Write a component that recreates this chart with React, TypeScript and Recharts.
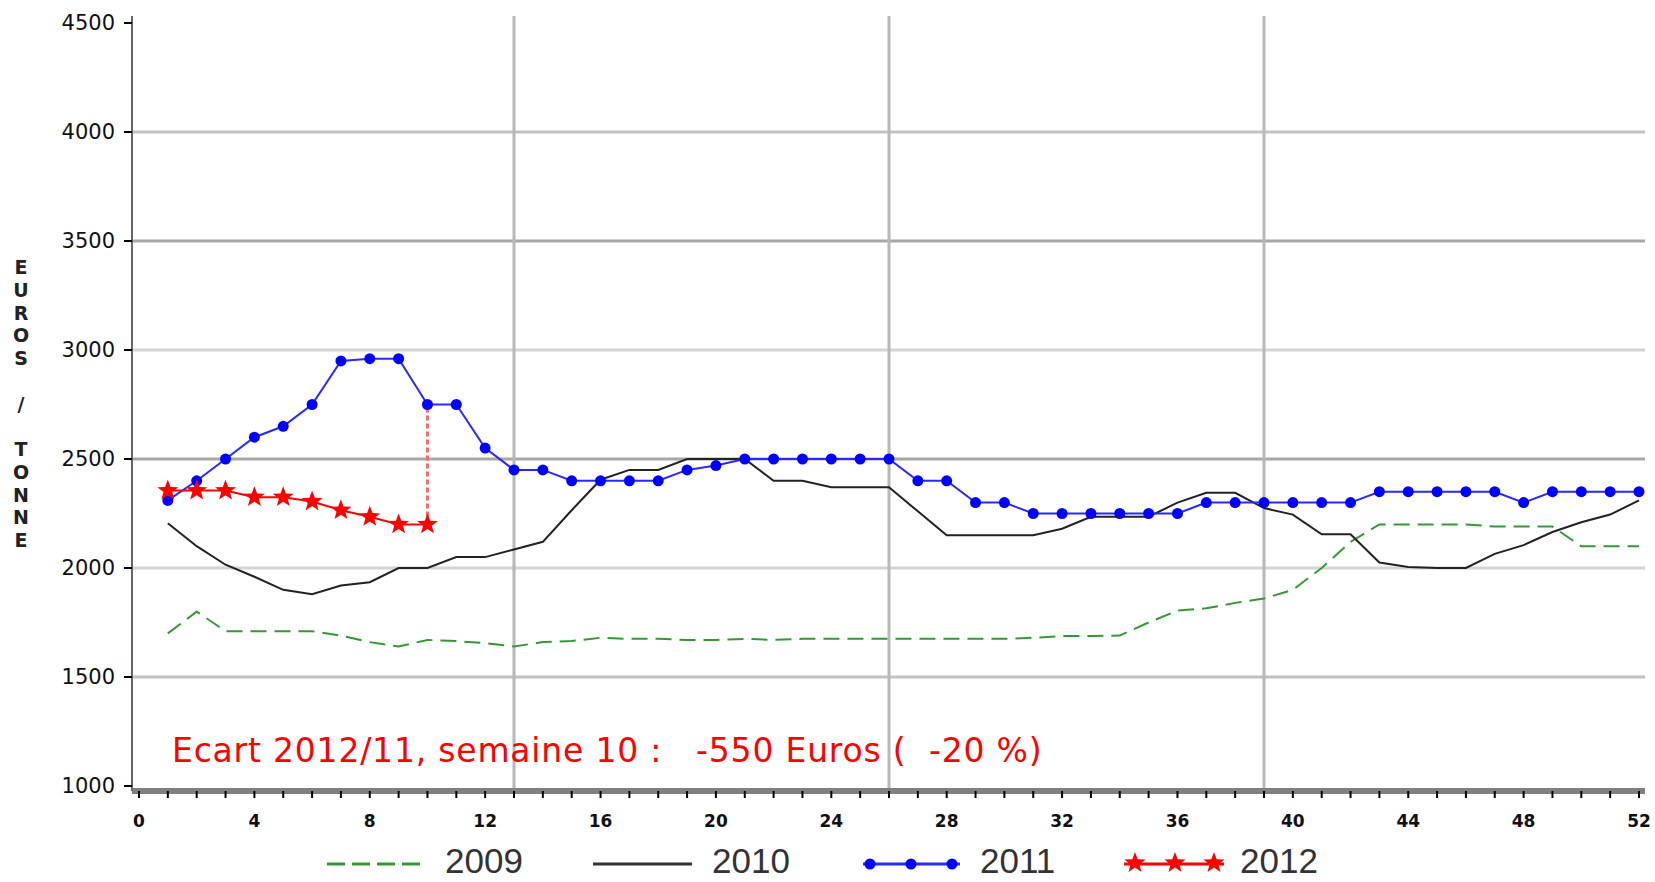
import { LineChart, Line, XAxis, YAxis, CartesianGrid, ReferenceLine } from "recharts"

// weekly prices, euros per tonne
const WEEKS = [
  1, 2, 3, 4, 5, 6, 7, 8, 9, 10, 11, 12, 13, 14, 15, 16, 17, 18, 19, 20, 21, 22, 23, 24, 25, 26,
  27, 28, 29, 30, 31, 32, 33, 34, 35, 36, 37, 38, 39, 40, 41, 42, 43, 44, 45, 46, 47, 48, 49, 50, 51, 52,
]
const PRICES_2009 = [
  1700, 1800, 1710, 1710, 1710, 1710, 1690, 1660, 1640, 1670, 1665, 1655, 1640, 1660, 1665, 1680, 1675,
  1675, 1670, 1670, 1675, 1670, 1675, 1675, 1675, 1675, 1675, 1675, 1675, 1675, 1680, 1688, 1688, 1690,
  1750, 1805, 1815, 1840, 1860, 1900, 2000, 2120, 2200, 2200, 2200, 2200, 2190, 2190, 2190, 2100, 2100, 2100,
]
const PRICES_2010 = [
  2205, 2100, 2015, 1960, 1900, 1880, 1920, 1935, 2000, 2000, 2050, 2050, 2085, 2120, 2265, 2405, 2450,
  2450, 2500, 2500, 2500, 2400, 2400, 2370, 2370, 2370, 2260, 2150, 2150, 2150, 2150, 2180, 2235, 2235,
  2235, 2300, 2345, 2345, 2275, 2245, 2155, 2155, 2025, 2005, 2000, 2000, 2065, 2105, 2165, 2210, 2245, 2310,
]
const PRICES_2011 = [
  2310, 2400, 2500, 2600, 2650, 2750, 2950, 2960, 2960, 2750, 2750, 2550, 2450, 2450, 2400, 2400, 2400,
  2400, 2450, 2470, 2500, 2500, 2500, 2500, 2500, 2500, 2400, 2400, 2300, 2300, 2250, 2250, 2250, 2250,
  2250, 2250, 2300, 2300, 2300, 2300, 2300, 2300, 2350, 2350, 2350, 2350, 2350, 2300, 2350, 2350, 2350, 2350,
]
const PRICES_2012 = [2355, 2355, 2355, 2325, 2325, 2305, 2265, 2235, 2200, 2200]

const X_TICKS = [
  0, 1, 2, 3, 4, 5, 6, 7, 8, 9, 10, 11, 12, 13, 14, 15, 16, 17, 18, 19, 20, 21, 22, 23, 24, 25, 26,
  27, 28, 29, 30, 31, 32, 33, 34, 35, 36, 37, 38, 39, 40, 41, 42, 43, 44, 45, 46, 47, 48, 49, 50, 51, 52,
]
const Y_TICKS = [1000, 1500, 2000, 2500, 3000, 3500, 4000, 4500]
const QUARTERS = [13, 26, 39]
const GAP_WEEK = 10
const YEARS = ["2009", "2010", "2011", "2012"]
const NOTE = "Ecart 2012/11, semaine 10 :   -550 Euros (  -20 %)"
const Y_TITLE = "EUROS / TONNE"

const rows = WEEKS.map((week, i) => ({
  week,
  y2009: PRICES_2009[i],
  y2010: PRICES_2010[i],
  y2011: PRICES_2011[i],
  y2012: i < PRICES_2012.length ? PRICES_2012[i] : null,
}))

function starPath(cx: number, cy: number, R: number, r: number) {
  let d = ""
  for (let i = 0; i < 10; i++) {
    const rad = i % 2 === 0 ? R : r
    const a = -Math.PI / 2 + (i * Math.PI) / 5
    d += (i ? "L" : "M") + (cx + rad * Math.cos(a)).toFixed(1) + " " + (cy + rad * Math.sin(a)).toFixed(1)
  }
  return d + "Z"
}

function StarDot(props: any) {
  const { cx, cy, index } = props
  if (cx == null || cy == null) return <g key={`star-${index}`} />
  return <path key={`star-${index}`} d={starPath(cx, cy, 11, 4.6)} fill="#ff0000" />
}

function WeekTick({ x, y, payload }: any) {
  if (payload.value % 4 !== 0) return <g />
  return (
    <text x={x} y={y} dy={27} textAnchor="middle" fontSize={17} fontWeight="bold" fontFamily="DejaVu Sans" fill="#111">
      {payload.value}
    </text>
  )
}

const FONT = "DejaVu Sans"

export default function App() {
  // legend layout
  const legendLeft = [327, 593, 863, 1124]
  const legendTextX = [445, 712, 980, 1240]
  const ly = 864

  return (
    <div style={{ position: "absolute", left: 0, top: 0, width: 1655, height: 882, background: "#fff", overflow: "hidden" }}>
      <LineChart width={1655} height={882} data={rows} margin={{ top: 16, right: 10, bottom: 51, left: 0 }}>
        <CartesianGrid vertical={false} horizontalValues={[Y_TICKS[3], Y_TICKS[5]]} stroke="#a8a8a8" strokeWidth={3} />
        <CartesianGrid vertical={false} horizontalValues={[Y_TICKS[2], Y_TICKS[4]]} stroke="#d4d4d4" strokeWidth={3} />
        <CartesianGrid vertical={false} horizontalValues={[Y_TICKS[1], Y_TICKS[6]]} stroke="#c2c2c2" strokeWidth={3} />
        <CartesianGrid horizontal={false} verticalValues={QUARTERS} stroke="#b8b8b8" strokeWidth={3} />
        <XAxis
          type="number"
          dataKey="week"
          domain={[0, 52]}
          ticks={X_TICKS}
          interval={0}
          padding={{ left: 7, right: 6 }}
          height={40}
          tickSize={7}
          tickLine={{ stroke: "#000", strokeWidth: 2 }}
          axisLine={{ stroke: "#808080", strokeWidth: 6 }}
          tick={<WeekTick />}
        />
        <XAxis
          xAxisId="top"
          orientation="top"
          type="number"
          dataKey="week"
          domain={[0, 52]}
          height={0}
          tick={false}
          tickLine={false}
          axisLine={{ stroke: "#000", strokeWidth: 3 }}
        />
        <YAxis
          domain={[1000, 4500]}
          ticks={Y_TICKS}
          interval={0}
          width={132}
          padding={{ top: 7, bottom: 5 }}
          tickSize={8}
          tickMargin={9}
          tickLine={{ stroke: "#000", strokeWidth: 2 }}
          axisLine={{ stroke: "#666", strokeWidth: 2 }}
          tick={{ fontSize: 21, fontFamily: FONT, fill: "#111" }}
        />
        <YAxis
          yAxisId="right"
          orientation="right"
          domain={[1000, 4500]}
          width={0}
          tick={false}
          tickLine={false}
          axisLine={{ stroke: "#000", strokeWidth: 3 }}
        />
        <Line
          dataKey="y2009"
          type="linear"
          stroke="#339933"
          strokeWidth={2}
          strokeDasharray="16 8"
          dot={false}
          activeDot={false}
          isAnimationActive={false}
        />
        <Line
          dataKey="y2010"
          type="linear"
          stroke="#222"
          strokeWidth={2}
          dot={false}
          activeDot={false}
          isAnimationActive={false}
        />
        <Line
          dataKey="y2011"
          type="linear"
          stroke="#2828ff"
          strokeWidth={2}
          dot={{ r: 5.5, fill: "#0000ff", stroke: "#0000ff", strokeWidth: 0 }}
          activeDot={false}
          isAnimationActive={false}
        />
        <ReferenceLine
          segment={[
            { x: GAP_WEEK, y: PRICES_2012[GAP_WEEK - 1] },
            { x: GAP_WEEK, y: PRICES_2011[GAP_WEEK - 1] },
          ]}
          stroke="#ff6666"
          strokeWidth={3}
          strokeDasharray="5 3"
        />
        <Line
          dataKey="y2012"
          type="linear"
          stroke="#ff0000"
          strokeWidth={2}
          dot={StarDot}
          activeDot={false}
          connectNulls={false}
          isAnimationActive={false}
        />
      </LineChart>

      <svg width={1655} height={882} style={{ position: "absolute", left: 0, top: 0, pointerEvents: "none" }}>
        {/* y axis title, one letter per row */}
        <text fontSize={19} fontWeight="bold" fontFamily={FONT} fill="#222" textAnchor="middle">
          {Y_TITLE.split("").map((ch, i) => (
            <tspan key={i} x={21} y={267 + i * 22.75} dominantBaseline="central">
              {ch}
            </tspan>
          ))}
        </text>

        <text x={172} y={762} fontSize={33} fontFamily={FONT} fill="#ff0000" letterSpacing={0.8} style={{ whiteSpace: "pre" }}>
          {NOTE}
        </text>

        {/* legend */}
        <line x1={legendLeft[0]} x2={legendLeft[0] + 95} y1={ly} y2={ly} stroke="#339933" strokeWidth={3} strokeDasharray="18 7" />
        <line x1={legendLeft[1]} x2={legendLeft[1] + 99} y1={ly} y2={ly} stroke="#333" strokeWidth={3} />
        <line x1={legendLeft[2]} x2={legendLeft[2] + 97} y1={ly} y2={ly} stroke="#2828ff" strokeWidth={3} />
        {[7, 48, 89].map((o) => (
          <circle key={o} cx={legendLeft[2] + o} cy={ly} r={5.5} fill="#0000ff" />
        ))}
        <line x1={legendLeft[3]} x2={legendLeft[3] + 100} y1={ly} y2={ly} stroke="#ff0000" strokeWidth={3} />
        {[11, 51, 90].map((o) => (
          <path key={o} d={starPath(legendLeft[3] + o, ly - 1, 11, 4.6)} fill="#ff0000" />
        ))}
        {YEARS.map((yr, i) => (
          <text key={yr} x={legendTextX[i]} y={873} fontSize={35} fontFamily="Liberation Sans" fill="#333">
            {yr}
          </text>
        ))}
      </svg>
    </div>
  )
}
